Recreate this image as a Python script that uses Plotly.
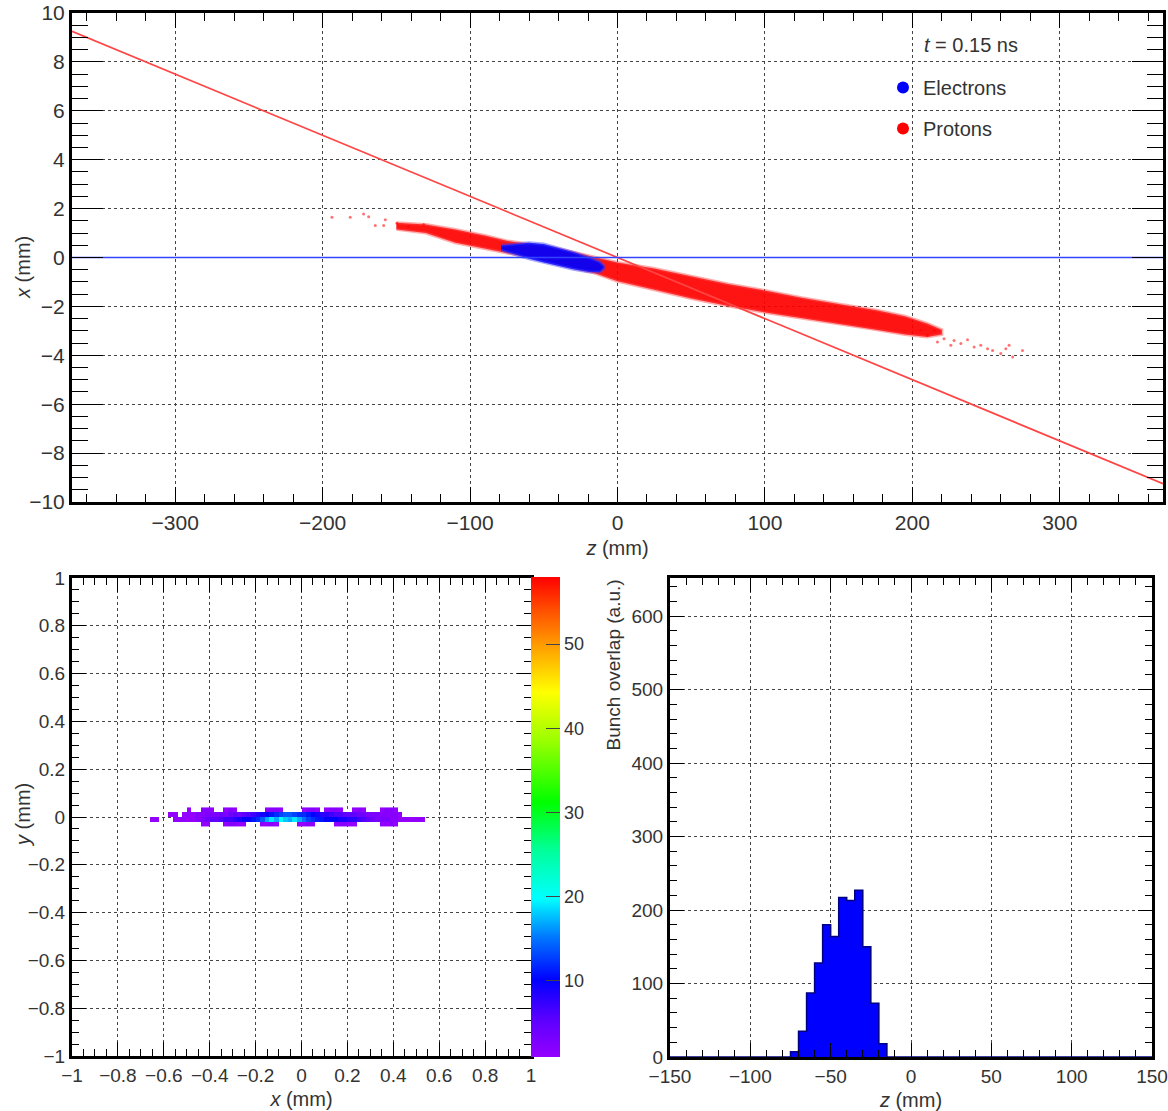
import plotly.graph_objects as go

# ---------------- data: top panel (x vs z) ----------------
crossing_line_z = [-370, 370]
crossing_line_x = [9.25, -9.25]
axis_line_z = [-370, 370]
axis_line_x = [0.0, 0.0]

# envelope of the dense proton cloud
proton_band_z = [-150, -130, -110, -90, -75, -60, -45, -30, -15, 0, 25, 50, 75, 100, 125, 150, 175, 195, 210, 220]
proton_band_hi = [1.42, 1.35, 1.15, 0.90, 0.68, 0.55, 0.42, 0.22, 0.00, -0.20, -0.45, -0.78, -1.08, -1.35, -1.65, -1.90, -2.15, -2.40, -2.70, -2.95]
proton_band_lo = [1.15, 1.00, 0.60, 0.35, 0.18, 0.02, -0.18, -0.42, -0.65, -0.97, -1.32, -1.68, -1.98, -2.25, -2.50, -2.72, -2.95, -3.15, -3.25, -3.15]

# sparse proton tails
proton_tail_z = [-193.7, -181.3, -172.2, -168.8, -164.3, -158.6, -157.5, -149.6, -141.7, -131.5,
                 205.7, 210.2, 214.7, 217.0, 221.5, 226.1, 228.3, 232.9, 237.4, 241.9,
                 246.4, 251.0, 254.4, 260.0, 263.4, 265.6, 268.0, 274.7]
proton_tail_x = [1.65, 1.65, 1.78, 1.67, 1.31, 1.31, 1.54, 1.40, 1.27, 1.35,
                 -2.98, -3.18, -2.98, -3.46, -3.32, -3.59, -3.39, -3.52, -3.36, -3.66,
                 -3.59, -3.73, -3.80, -3.93, -3.73, -3.59, -4.07, -3.80]

# envelope of the electron cloud
electron_z = [-79, -70, -60, -50, -40, -30, -20, -12, -9]
electron_hi = [0.50, 0.56, 0.60, 0.55, 0.40, 0.22, 0.02, -0.18, -0.35]
electron_lo = [0.30, 0.15, -0.05, -0.20, -0.35, -0.48, -0.58, -0.60, -0.45]

# ---------------- data: bottom-left (y vs x 2D histogram) ----------------
hm_x = [round(-0.65 + 0.02 * i, 2) for i in range(61)]
hm_y = [-0.03, -0.01, 0.01, 0.03]
row_m03 = [0,0,0,0,0,0,0,0,0,0, 0,1,1,0,0,0,1,2,2,1, 1,0,0,0,1,1,2,1,0,0,
           0,0,1,1,2,1,0,0,0,0, 1,2,2,1,1,0,0,0,0,0, 1,1,2,1,0,0,0,0,0,0, 0]
row_m01 = [1,1,0,0,0,1,1,1,1,1, 2,3,4,5,5,6,7,7,8,9, 10,10,11,12,14,17,19,17,20,18,
           17,19,17,15,13,12,11,11,10,10, 10,9,9,8,8,7,6,5,4,3, 3,3,2,2,1,1,1,1,1,1, 0]
row_p01 = [0,0,0,0,1,1,0,1,1,1, 2,2,3,3,3,4,3,4,5,4, 5,6,7,8,9,10,11,12,13,14,
           14,13,12,12,11,10,9,8,8,7, 6,6,5,5,5,4,4,3,3,3, 2,2,2,2,1,0,0,0,0,0, 0]
row_p03 = [0,0,0,0,0,0,0,0,1,0, 0,2,2,1,0,0,1,2,1,0, 0,0,0,0,0,1,2,2,1,0,
           0,0,0,1,2,2,1,0,1,2, 2,1,0,0,1,2,1,0,0,0, 1,2,2,1,0,0,0,0,0,0, 0]
cbar_ticks = [10, 20, 30, 40, 50]

# ---------------- data: bottom-right (bunch overlap vs z) ----------------
hist_start = -150
hist_binw = 5
overlap_counts = [0]*15 + [7, 35, 87, 128, 180, 164, 217, 213, 227, 150, 73, 18] + [0]*33

# ---------------- build ----------------
W, H = 1168, 1111
def px(x): return x / W
def py(y): return (H - y) / H

FONT = "Liberation Sans, Arial, sans-serif"
TXT = "#333333"

band_z = proton_band_z + proton_band_z[::-1]
band_x = proton_band_hi + proton_band_lo[::-1]
el_z = electron_z + electron_z[::-1]
el_x = electron_hi + electron_lo[::-1]

z_grid = [[None if v == 0 else v for v in r] for r in (row_m03, row_m01, row_p01, row_p03)]

edges = [hist_start + hist_binw * i for i in range(len(overlap_counts) + 1)]
centers = [e + hist_binw / 2 for e in edges[:-1]]
step_y = overlap_counts + [overlap_counts[-1]]

fig = go.Figure()

# top panel
fig.add_trace(go.Scatter(x=band_z, y=band_x, mode="lines", fill="toself",
                         fillcolor="rgba(255,0,0,0.92)",
                         line=dict(color="rgba(255,70,70,0.45)", width=3),
                         hoverinfo="skip", showlegend=False, xaxis="x", yaxis="y"))
fig.add_trace(go.Scatter(x=proton_tail_z, y=proton_tail_x, mode="markers",
                         marker=dict(color="rgba(255,0,0,0.55)", size=3),
                         hoverinfo="skip", showlegend=False, xaxis="x", yaxis="y"))
fig.add_trace(go.Scatter(x=el_z, y=el_x, mode="lines", fill="toself",
                         fillcolor="rgba(0,0,255,0.92)",
                         line=dict(color="rgba(60,60,255,0.45)", width=3),
                         hoverinfo="skip", showlegend=False, xaxis="x", yaxis="y"))
fig.add_trace(go.Scatter(x=crossing_line_z, y=crossing_line_x, mode="lines",
                         line=dict(color="#ff4444", width=1.7),
                         hoverinfo="skip", showlegend=False, xaxis="x", yaxis="y"))
fig.add_trace(go.Scatter(x=axis_line_z, y=axis_line_x, mode="lines",
                         line=dict(color="#3344ff", width=1.4),
                         hoverinfo="skip", showlegend=False, xaxis="x", yaxis="y"))
# legend entries
fig.add_trace(go.Scatter(x=[None], y=[None], mode="markers", name="Electrons",
                         marker=dict(color="#0000ff", size=10), legendgroup="e",
                         xaxis="x", yaxis="y"))
fig.add_trace(go.Scatter(x=[None], y=[None], mode="markers", name="Protons",
                         marker=dict(color="#ff0000", size=10), legendgroup="p",
                         xaxis="x", yaxis="y"))

# bottom-left heatmap
rainbow = [[0.0, "#9400ff"], [0.08, "#5a00ff"], [0.16, "#0000ff"], [0.25, "#0078ff"],
           [0.33, "#00ffff"], [0.43, "#00ff9a"], [0.53, "#00ff00"], [0.66, "#9cff00"],
           [0.76, "#ffff00"], [0.86, "#ff9a00"], [0.93, "#ff5000"], [1.0, "#ff0000"]]
fig.add_trace(go.Heatmap(x=hm_x, y=hm_y, z=z_grid, zmin=1, zmax=58, colorscale=rainbow,
                         xaxis="x2", yaxis="y2", hoverongaps=False,
                         colorbar=dict(x=px(531), xanchor="left", xpad=0, ypad=0,
                                       y=py(1056.7), yanchor="bottom",
                                       len=480 / H, lenmode="fraction",
                                       thickness=29, thicknessmode="pixels",
                                       outlinewidth=0, ticks="inside", ticklen=14,
                                       tickcolor="#444", tickvals=cbar_ticks,
                                       tickfont=dict(size=18, color=TXT, family=FONT))))

# bottom-right histogram
fig.add_trace(go.Bar(x=centers, y=overlap_counts, width=hist_binw,
                     marker=dict(color="#0000ff", line=dict(width=0)),
                     hoverinfo="skip", showlegend=False, xaxis="x3", yaxis="y3"))
fig.add_trace(go.Scatter(x=edges, y=step_y, mode="lines", line_shape="hv",
                         line=dict(color="#000080", width=1.5),
                         hoverinfo="skip", showlegend=False, xaxis="x3", yaxis="y3"))


def axis(rng, dtick, ticklen, mdtick, mlen, domain, anchor, title=None, tfont=20):
    d = dict(range=rng, dtick=dtick, tick0=0, domain=domain, anchor=anchor,
             automargin=False,
             showline=True, linewidth=3, linecolor="black", mirror="allticks",
             ticks="inside", ticklen=ticklen, tickwidth=1, tickcolor="black",
             showgrid=True, gridcolor="#444444", griddash="dot", gridwidth=1,
             zeroline=False, fixedrange=True,
             tickfont=dict(size=tfont, color=TXT, family=FONT),
             minor=dict(ticks="inside", dtick=mdtick, tick0=0, ticklen=mlen,
                        tickcolor="black", tickwidth=1, showgrid=False))
    if title:
        d["title"] = dict(text=title, font=dict(size=20, color=TXT, family=FONT), standoff=8)
    return d

top_xd = [px(72), px(1163)]
top_yd = [py(502), py(13)]
bl_xd = [px(72), px(531)]
bl_yd = [py(1056), py(578)]
br_xd = [px(670), px(1152)]
br_yd = [py(1057), py(578)]

def ytitle(text, x, y, anchor="middle", size=20):
    return dict(text=text, x=px(x), y=py(y), xref="paper", yref="paper",
                xanchor="center", yanchor=anchor, textangle=-90, showarrow=False,
                font=dict(size=size, color=TXT, family=FONT))

fig.update_layout(
    width=W, height=H, autosize=False,
    margin=dict(l=0, r=0, t=0, b=0, autoexpand=False),
    paper_bgcolor="white", plot_bgcolor="white",
    font=dict(family=FONT, color=TXT),
    bargap=0,
    xaxis=axis([-370, 370], 100, 15, 20, 8, top_xd, "y", "<i>z</i> (mm)", 21),
    yaxis=axis([-10, 10], 2, 31, 0.5, 16, top_yd, "x", None, 21),
    xaxis2=axis([-1, 1], 0.2, 14, 0.05, 7, bl_xd, "y2", "<i>x</i> (mm)", 19),
    yaxis2=axis([-1, 1], 0.2, 14, 0.05, 7, bl_yd, "x2", None, 19),
    xaxis3=axis([-150, 150], 50, 14, 10, 7, br_xd, "y3", "<i>z</i> (mm)", 19),
    yaxis3=axis([0, 652], 100, 14, 20, 7, br_yd, "x3", None, 19),
    legend=dict(x=px(883), y=py(68), xanchor="left", yanchor="top",
                bgcolor="rgba(0,0,0,0)", borderwidth=0, tracegroupgap=12,
                font=dict(size=20, color=TXT, family=FONT), itemsizing="constant"),
    annotations=[
        dict(text="<i>t</i> = 0.15 ns", x=px(922), y=py(45), xref="paper", yref="paper",
             xanchor="left", yanchor="middle", showarrow=False,
             font=dict(size=20, color=TXT, family=FONT)),
        ytitle("<i>x</i> (mm)", 23, 268),
        ytitle("<i>y</i> (mm)", 23, 815),
        ytitle("Bunch overlap (a.u.)", 613, 578, "top", 19),
    ],
)

fig.write_html("out.html", config={"displayModeBar": False},
               post_script="document.body.style.margin='0';document.body.style.padding='0';")
